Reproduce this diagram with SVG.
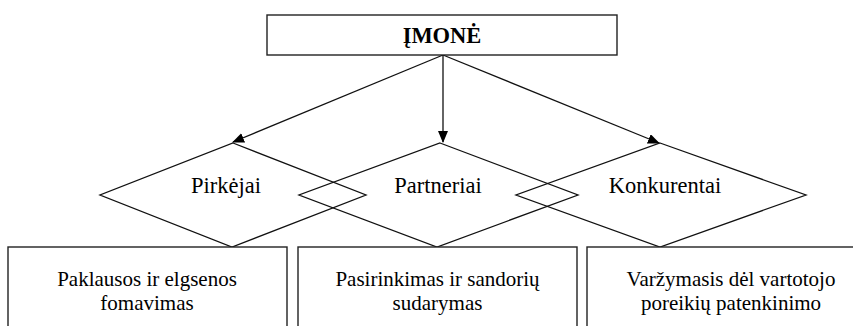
<svg xmlns="http://www.w3.org/2000/svg" width="853" height="326" viewBox="0 0 853 326">
<style>
.box{fill:#fff;stroke:#222;stroke-width:1.4}
.dia{fill:none;stroke:#111;stroke-width:1.3}
.ln{fill:none;stroke:#111;stroke-width:1.3}
text{font-family:'Liberation Serif','Times New Roman',serif;fill:#000;text-anchor:middle}
.td{font-size:22.5px}
.tb{font-size:21px}
</style>
<defs>
<marker id="ah" markerWidth="12" markerHeight="10" refX="11" refY="5" orient="auto" markerUnits="userSpaceOnUse">
<path d="M0,0 L12,5 L0,10 z" fill="#000"/>
</marker>
</defs>
<rect width="853" height="326" fill="#fff"/>
<g id="connectors">
<line class="ln" x1="443" y1="55" x2="233" y2="142" marker-end="url(#ah)"/>
<line class="ln" x1="443" y1="55" x2="443" y2="142" marker-end="url(#ah)"/>
<line class="ln" x1="443" y1="55" x2="659" y2="143" marker-end="url(#ah)"/>
</g>
<g id="imone">
<rect class="box" x="267" y="15" width="350" height="40"/>
<text x="442" y="43" font-size="22.5" font-weight="bold">ĮMONĖ</text>
</g>
<g id="pirkejai">
<polygon class="dia" points="233,143 366,195 232,247 100,195"/>
<text class="td" x="226" y="193">Pirkėjai</text>
</g>
<g id="partneriai">
<polygon class="dia" points="440,143 578,195 437,247 299,195"/>
<text class="td" x="438" y="193">Partneriai</text>
</g>
<g id="konkurentai">
<polygon class="dia" points="660,143 806,195 660,247 516,195"/>
<text class="td" x="665" y="193">Konkurentai</text>
</g>
<g id="box1">
<rect class="box" x="8" y="247" width="279" height="100"/>
<text class="tb" x="147" y="286">Paklausos ir elgsenos</text>
<text class="tb" x="147" y="310">fomavimas</text>
</g>
<g id="box2">
<rect class="box" x="298" y="247" width="279" height="100"/>
<text class="tb" x="437.5" y="286">Pasirinkimas ir sandorių</text>
<text class="tb" x="437.5" y="310">sudarymas</text>
</g>
<g id="box3">
<rect class="box" x="587" y="247" width="290" height="100"/>
<text class="tb" x="731" y="286">Varžymasis dėl vartotojo</text>
<text class="tb" x="731" y="310">poreikių patenkinimo</text>
</g>
</svg>
